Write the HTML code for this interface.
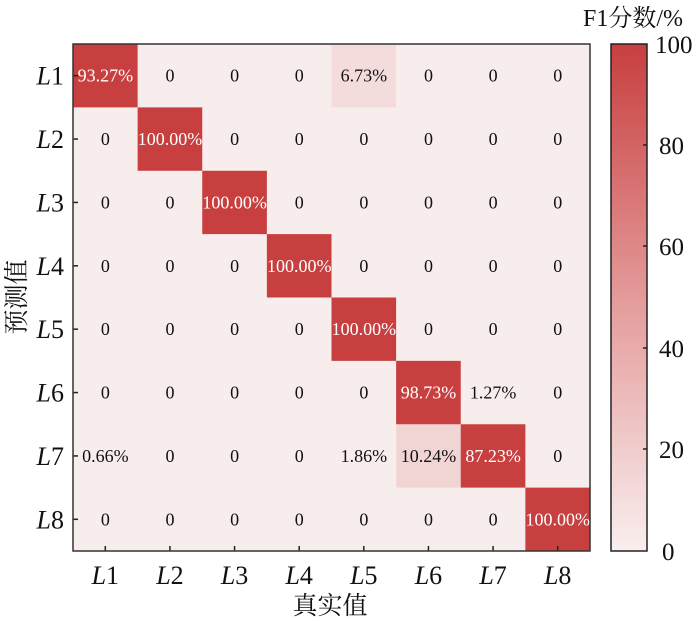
<!DOCTYPE html>
<html><head><meta charset="utf-8"><style>
html,body{margin:0;padding:0;background:#fff;}
svg{display:block;font-family:"Liberation Serif","Noto Serif CJK SC",serif;}
</style></head><body>
<svg width="700" height="621" viewBox="0 0 700 621">
<defs>
<linearGradient id="cb" x1="0" y1="1" x2="0" y2="0">
<stop offset="0" stop-color="#f9eeee"/>
<stop offset="0.5" stop-color="#e49a9a"/>
<stop offset="1" stop-color="#c83f3f"/>
</linearGradient>
</defs>
<g id="cells"></g>
<rect x="73" y="44" width="517" height="507" fill="none" stroke="#333" stroke-width="1.5"/>
<rect x="611" y="44" width="36" height="507" fill="url(#cb)" stroke="#222" stroke-width="1.5"/>
<g font-size="24" fill="#111">
<text x="583" y="26">F1<tspan font-family="Noto Serif CJK SC,serif">分数</tspan>/%</text>
<text x="655" y="53" font-size="25">100</text>
<text x="659" y="154" font-size="25">80</text>
<text x="659" y="255" font-size="25">60</text>
<text x="659" y="357" font-size="25">40</text>
<text x="659" y="458" font-size="25">20</text>
<text x="662" y="560" font-size="25">0</text>
</g>
<g stroke="#222" stroke-width="1.5">
<line x1="643" y1="145" x2="647" y2="145"/><line x1="643" y1="246" x2="647" y2="246"/>
<line x1="643" y1="348" x2="647" y2="348"/><line x1="643" y1="449" x2="647" y2="449"/>
</g>
<g fill="#111" text-anchor="middle">
<text x="330" y="614" font-family="Noto Serif CJK SC,serif" font-size="25">真实值</text>
<text transform="translate(25,297) rotate(-90)" font-family="Noto Serif CJK SC,serif" font-size="25">预测值</text>
</g>
<script>
var M=[["93.27%","0","0","0","6.73%","0","0","0"],
["0","100.00%","0","0","0","0","0","0"],
["0","0","100.00%","0","0","0","0","0"],
["0","0","0","100.00%","0","0","0","0"],
["0","0","0","0","100.00%","0","0","0"],
["0","0","0","0","0","98.73%","1.27%","0"],
["0.66%","0","0","0","1.86%","10.24%","87.23%","0"],
["0","0","0","0","0","0","0","100.00%"]];
var ns="http://www.w3.org/2000/svg",g=document.getElementById("cells");
var cw=517/8,ch=507/8;
function el(t,a,p,txt){var e=document.createElementNS(ns,t);for(var k in a)e.setAttribute(k,a[k]);if(txt)e.textContent=txt;(p||g).appendChild(e);return e;}
for(var r=0;r<8;r++)for(var c=0;c<8;c++){
 var v=parseFloat(M[r][c]),f;
 if(v>50)f="#c83f3f";else if(v>8)f="#f1d5d5";else if(v>5)f="#f4dcdc";else f="#f8eded";
 el("rect",{x:73+c*cw,y:44+r*ch,width:cw+0.5,height:ch+0.5,fill:f});
 el("text",{x:73+c*cw+cw/2,y:44+r*ch+ch/2+6,"text-anchor":"middle","font-size":"18",fill:v>50?"#fff":"#111"},null,M[r][c]);
}
for(var i=0;i<8;i++){
 var y=44+i*ch+ch/2,x=73+i*cw+cw/2;
 el("line",{x1:73,y1:y,x2:78,y2:y,stroke:"#222","stroke-width":1.5});
 el("line",{x1:x,y1:551,x2:x,y2:546,stroke:"#222","stroke-width":1.5});
 var t=el("text",{x:64,y:y+9,"text-anchor":"end","font-size":"26",fill:"#111"});
 el("tspan",{"font-style":"italic"},t,"L");el("tspan",{},t,""+(i+1));
 var t2=el("text",{x:x,y:584,"text-anchor":"middle","font-size":"26",fill:"#111"});
 el("tspan",{"font-style":"italic"},t2,"L");el("tspan",{},t2,""+(i+1));
}
</script>
</svg>
</body></html>
